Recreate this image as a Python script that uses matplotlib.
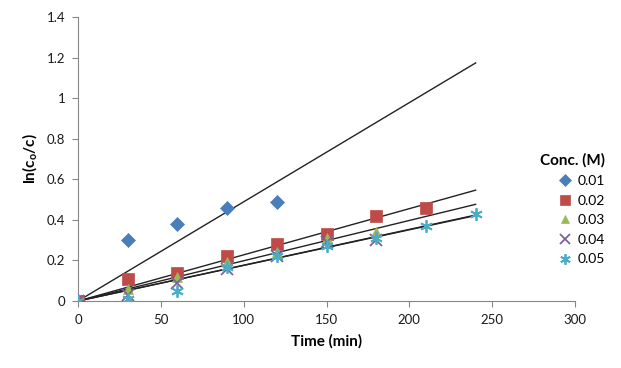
import numpy as np
import matplotlib.pyplot as plt

plt.rcParams['font.family'] = ['Lato', 'DejaVu Sans']
plt.rcParams['mathtext.default'] = 'regular'

labels = ['0.01', '0.02', '0.03', '0.04', '0.05']
times = [
    [0, 30, 60, 90, 120],
    [0, 30, 60, 90, 120, 150, 180, 210],
    [0, 30, 60, 90, 120, 150, 180],
    [0, 30, 60, 90, 120, 150, 180],
    [0, 30, 60, 90, 120, 150, 180, 210, 240],
]
values = [
    [0, 0.30, 0.38, 0.46, 0.49],
    [0, 0.11, 0.14, 0.22, 0.28, 0.33, 0.42, 0.46],
    [0, 0.06, 0.12, 0.19, 0.24, 0.31, 0.34],
    [0, 0.03, 0.09, 0.16, 0.22, 0.29, 0.30],
    [0, 0.01, 0.05, 0.17, 0.22, 0.27, 0.31, 0.37, 0.43],
]
colors = ['#4A7EBB', '#BE4B48', '#98B954', '#7D60A0', '#4BACC6']
markers = ['D', 's', '^', 'x', (6, 2, 0)]
sizes = [7, 8, 7, 8, 9]

fig = plt.figure(figsize=(6.21, 3.68), dpi=100)
ax = fig.add_axes([0.1256, 0.182, 0.8004, 0.772])

t_fit = np.array([0, 240])
for t, v, c, m, s, lab in zip(times, values, colors, markers, sizes, labels):
    t = np.array(t, dtype=float)
    v = np.array(v)
    ax.plot(t, v, linestyle='none', marker=m, color=c, markersize=s,
            markeredgewidth=1.3 if m in ('x', (6, 2, 0)) else 0.5, label=lab, zorder=3)
    # linear trendline through origin
    k = (t * v).sum() / (t * t).sum()
    ax.plot(t_fit, k * t_fit, color='#222222', lw=1.0, zorder=2)

ax.set_xlim(0, 300)
ax.set_ylim(0, 1.4)
ax.set_xticks(np.arange(0, 301, 50))
ax.set_yticks(np.arange(0, 1.41, 0.2))
ax.set_yticklabels(['0', '0.2', '0.4', '0.6', '0.8', '1', '1.2', '1.4'])
for sp in ['top', 'right']:
    ax.spines[sp].set_visible(False)
for sp in ['left', 'bottom']:
    ax.spines[sp].set_color('#868686')
ax.tick_params(axis='both', direction='out', length=4, color='#868686',
               labelsize=9.5, labelcolor='#1a1a1a', pad=5)

ax.set_xlabel('Time (min)', fontsize=11, fontweight='bold', labelpad=6)
ax.set_ylabel(r'ln(c$_{o}$/c)', fontsize=11, fontweight='bold', labelpad=6)

leg = fig.legend(loc='upper left', bbox_to_anchor=(0.86, 0.6), frameon=False,
                 title='Conc. (M)', fontsize=10, handletextpad=0.1,
                 labelspacing=0.55, handlelength=1.5, borderaxespad=0,
                 markerscale=0.85)
leg.get_title().set_fontweight('bold')
leg.get_title().set_fontsize(11)
leg._legend_box.align = 'right'

fig.savefig('out.png', dpi=100)
